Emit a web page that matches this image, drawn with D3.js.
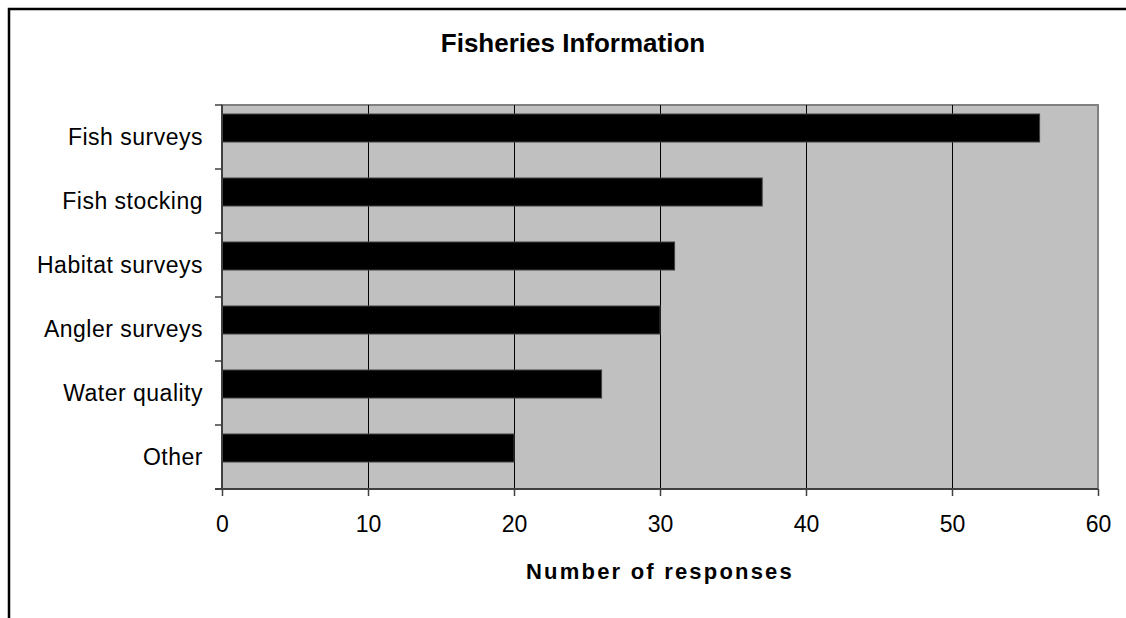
<!DOCTYPE html>
<html>
<head>
<meta charset="utf-8">
<script src="https://cdn.jsdelivr.net/npm/d3@7/dist/d3.min.js"></script>
<style>
  html, body { margin: 0; padding: 0; background: #fff; }
  svg { display: block; font-family: "Liberation Sans", Arial, sans-serif; }
</style>
</head>
<body>
<svg id="chart" width="1126" height="618"></svg>
<script>
// Survey responses: kinds of fisheries information collected
const categories = ["Fish surveys", "Fish stocking", "Habitat surveys", "Angler surveys", "Water quality", "Other"];
const responses  = [56, 37, 31, 30, 26, 20];
const xTicks     = [0, 10, 20, 30, 40, 50, 60];
const chartTitle = "Fisheries Information";
const xTitle     = "Number of responses";

const svg = d3.select("#chart");
const plot = { left: 222, right: 1098, top: 105, bottom: 489 };

// Outer chart frame (continues past the visible edge)
svg.append("rect")
  .attr("x", 9).attr("y", 9)
  .attr("width", 1300).attr("height", 800)
  .attr("fill", "#fff").attr("stroke", "#000").attr("stroke-width", 2.5);

const x = d3.scaleLinear().domain([0, 60]).range([plot.left, plot.right]);

// One band per category (tick marks and labels) ...
const yCat = d3.scaleBand().domain(categories).range([plot.top, plot.bottom]).padding(0);
// ... and a narrower band for the bars, sitting in the upper part of each category
const yBar = d3.scaleBand().domain(categories).range([plot.top, plot.bottom])
  .paddingInner(0.5625).paddingOuter(0.28125).align(0.25);

// Plot background
svg.append("rect")
  .attr("x", plot.left).attr("y", plot.top)
  .attr("width", plot.right - plot.left).attr("height", plot.bottom - plot.top)
  .attr("fill", "#c0c0c0").attr("stroke", "#808080").attr("stroke-width", 2);

// Vertical gridlines
svg.append("g").selectAll("line")
  .data(xTicks.filter(v => v > 0 && v < 60))
  .join("line")
  .attr("x1", d => Math.round(x(d)) + 0.5).attr("x2", d => Math.round(x(d)) + 0.5)
  .attr("y1", plot.top).attr("y2", plot.bottom)
  .attr("stroke", "#000").attr("stroke-width", 1);

// Bars
svg.append("g").selectAll("rect")
  .data(categories)
  .join("rect")
  .attr("x", x(0))
  .attr("y", d => yBar(d))
  .attr("width", (d, i) => x(responses[i]) - x(0))
  .attr("height", yBar.bandwidth())
  .attr("fill", "#000")
  .attr("stroke", "#404040").attr("stroke-width", 1);

// Y axis: line, ticks at category boundaries, labels at category centres
const yAxisG = svg.append("g").attr("transform", `translate(${plot.left},0)`);
yAxisG.append("line")
  .attr("x1", 0).attr("x2", 0).attr("y1", plot.top).attr("y2", plot.bottom)
  .attr("stroke", "#404040").attr("stroke-width", 2);
const boundaries = categories.map(c => yCat(c)).concat([yCat.range()[1]]);
yAxisG.selectAll("line.tick")
  .data(boundaries)
  .join("line")
  .attr("class", "tick")
  .attr("x1", -7).attr("x2", 0)
  .attr("y1", d => d).attr("y2", d => d)
  .attr("stroke", "#404040").attr("stroke-width", 1.5);
yAxisG.selectAll("text")
  .data(categories)
  .join("text")
  .attr("x", -19)
  .attr("y", d => yCat(d) + yCat.bandwidth() / 2)
  .attr("dy", "0.35em")
  .attr("text-anchor", "end")
  .attr("font-size", 23)
  .attr("letter-spacing", "0.5px")
  .attr("fill", "#000")
  .text(d => d);

// X axis
const xAxis = d3.axisBottom(x).tickValues(xTicks).tickSize(7).tickPadding(20).tickFormat(d3.format("d"));
const xAxisG = svg.append("g")
  .attr("transform", `translate(0,${plot.bottom})`)
  .call(xAxis);
xAxisG.select(".domain").attr("stroke", "#404040").attr("stroke-width", 2)
  .attr("d", `M${plot.left - 7},0H${plot.right}`);
xAxisG.selectAll(".tick line").attr("stroke", "#404040").attr("stroke-width", 1.5);
xAxisG.selectAll(".tick text")
  .attr("font-size", 23)
  .attr("font-family", "'Liberation Sans', Arial, sans-serif")
  .attr("fill", "#000");

// Titles
svg.append("text")
  .attr("x", 573).attr("y", 52)
  .attr("text-anchor", "middle")
  .attr("font-size", 26).attr("font-weight", "bold")
  .attr("fill", "#000")
  .text(chartTitle);

svg.append("text")
  .attr("x", 660).attr("y", 579)
  .attr("text-anchor", "middle")
  .attr("font-size", 22).attr("font-weight", "bold")
  .attr("letter-spacing", "2.2px")
  .attr("fill", "#000")
  .text(xTitle);
</script>
</body>
</html>
